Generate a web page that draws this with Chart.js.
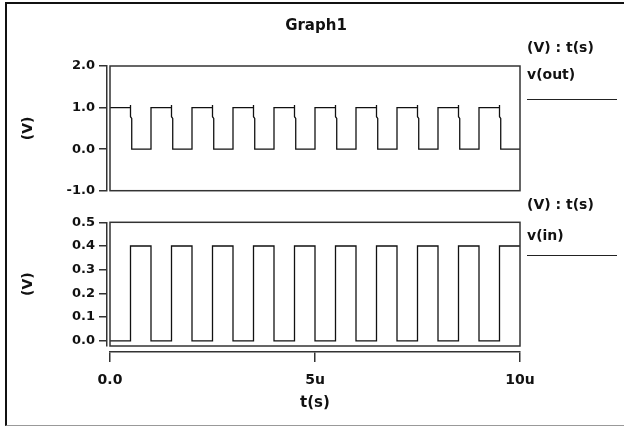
<!DOCTYPE html>
<html>
<head>
<meta charset="utf-8">
<script src="https://cdn.jsdelivr.net/npm/chart.js@4"></script>
<style>
  html, body { margin: 0; padding: 0; background: #fff; }
  #wrap { position: relative; width: 624px; height: 427px; overflow: hidden; background: #fff; }
  #wrap canvas { position: absolute; left: 0; top: 0; }
  .outer { position: absolute; left: 5px; top: 2px; width: 700px; height: 421px;
           border-top: 2px solid #111; border-left: 2px solid #111; border-bottom: 1px solid #999; }
  .txt { position: absolute; font-family: "DejaVu Sans", sans-serif; font-weight: bold; color: #111;
         white-space: nowrap; height: 20px; line-height: 20px; }
  .key { position: absolute; height: 0; border-top: 1.5px solid #222; }
</style>
</head>
<body>
<div id="wrap">
  <div class="outer"></div>
  <canvas id="chartOut" width="624" height="427"></canvas>
  <canvas id="chartIn" width="624" height="427"></canvas>
  <div class="txt" style="left:0;width:632px;text-align:center;top:15px;font-size:15px;">Graph1</div>
  <div class="txt" style="left:527px;top:37px;font-size:14px;">(V) : t(s)</div>
  <div class="txt" style="left:527px;top:64px;font-size:14px;">v(out)</div>
  <div class="key" style="left:527px;width:90px;top:99px;"></div>
  <div class="txt" style="left:527px;top:194px;font-size:14px;">(V) : t(s)</div>
  <div class="txt" style="left:527px;top:225px;font-size:14px;">v(in)</div>
  <div class="key" style="left:527px;width:90px;top:255px;"></div>
</div>
<script>
// --- Dados (tempo em us) ---
// v(out): inversor, cai em k+0.5 com pequeno pico e degrau, sobe em k+1
const tOut = [0,
  0.5, 0.5, 0.5, 0.53, 0.53, 1, 1,
  1.5, 1.5, 1.5, 1.53, 1.53, 2, 2,
  2.5, 2.5, 2.5, 2.53, 2.53, 3, 3,
  3.5, 3.5, 3.5, 3.53, 3.53, 4, 4,
  4.5, 4.5, 4.5, 4.53, 4.53, 5, 5,
  5.5, 5.5, 5.5, 5.53, 5.53, 6, 6,
  6.5, 6.5, 6.5, 6.53, 6.53, 7, 7,
  7.5, 7.5, 7.5, 7.53, 7.53, 8, 8,
  8.5, 8.5, 8.5, 8.53, 8.53, 9, 9,
  9.5, 9.5, 9.5, 9.53, 9.53, 10];
const vOut = [1,
  1, 1.06, 0.78, 0.74, 0, 0, 1,
  1, 1.06, 0.78, 0.74, 0, 0, 1,
  1, 1.06, 0.78, 0.74, 0, 0, 1,
  1, 1.06, 0.78, 0.74, 0, 0, 1,
  1, 1.06, 0.78, 0.74, 0, 0, 1,
  1, 1.06, 0.78, 0.74, 0, 0, 1,
  1, 1.06, 0.78, 0.74, 0, 0, 1,
  1, 1.06, 0.78, 0.74, 0, 0, 1,
  1, 1.06, 0.78, 0.74, 0, 0, 1,
  1, 1.06, 0.78, 0.74, 0, 0];

// v(in): pulso 0 -> 0.4 V (valor mantido ate o proximo ponto)
const tIn = [0, 0.5, 1, 1.5, 2, 2.5, 3, 3.5, 4, 4.5, 5, 5.5, 6, 6.5, 7, 7.5, 8, 8.5, 9, 9.5, 10];
const vIn = [0, 0.4, 0, 0.4, 0, 0.4, 0, 0.4, 0, 0.4, 0, 0.4, 0, 0.4, 0, 0.4, 0, 0.4, 0, 0.4, 0.4];

const yTicksOut = [2, 1, 0, -1];
const yTicksIn = [0.5, 0.4, 0.3, 0.2, 0.1, 0];
const xTickVals = [0, 5, 10];
const xTickLabels = ['0.0', '5u', '10u'];

// --- Estilo comum ---
const INK = '#111';
const AXIS = '#333';
const fnt = (size) => ({ family: 'DejaVu Sans', size, weight: 'bold' });

// moldura do grafico + eixo y afastado 3px da moldura
const frameBox = {
  id: 'frameBox',
  afterLayout(chart, args, opts) {
    const y = chart.scales.y;
    y.left -= 3; y.right -= 3;
    if (opts.xShift) {
      const x = chart.scales.x;
      x.top += opts.xShift; x.bottom += opts.xShift;
    }
  },
  afterDatasetsDraw(chart) {
    const a = chart.chartArea, ctx = chart.ctx;
    ctx.save();
    ctx.strokeStyle = AXIS;
    ctx.lineWidth = 1.5;
    ctx.strokeRect(a.left, a.top, a.right - a.left, a.bottom - a.top);
    ctx.restore();
  }
};

function eixoY(min, max, ticks) {
  return {
    type: 'linear', min, max,
    afterBuildTicks: s => { s.ticks = ticks.map(v => ({ value: v })); },
    afterFit: s => { s.width = 87; },
    grid: { drawOnChartArea: false, drawTicks: true, tickLength: 8, color: AXIS, lineWidth: 1.5 },
    border: { display: true, color: AXIS, width: 1.5 },
    ticks: { autoSkip: false, color: INK, padding: 4, font: fnt(13), callback: v => Number(v).toFixed(1) },
    title: { display: true, text: '(V)', color: INK, padding: 0, font: fnt(14) }
  };
}

function serie(t, v, stepped) {
  return {
    data: t.map((x, i) => ({ x, y: v[i] })),
    borderColor: INK, borderWidth: 1.3, pointRadius: 0, tension: 0, fill: false, stepped
  };
}

const baseOpts = {
  responsive: false, animation: false, devicePixelRatio: 1,
  plugins: { legend: { display: false }, tooltip: { enabled: false } }
};

// --- Grafico superior: v(out) ---
new Chart(document.getElementById('chartOut'), {
  type: 'line',
  data: { datasets: [serie(tOut, vOut, false)] },
  options: {
    ...baseOpts,
    layout: { padding: { left: 23, right: 104, top: 66, bottom: 236.3 } },
    plugins: { ...baseOpts.plugins, frameBox: { xShift: 0 } },
    scales: {
      x: { type: 'linear', min: 0, max: 10, display: false },
      y: eixoY(-1, 2, yTicksOut)
    }
  },
  plugins: [frameBox]
});

// --- Grafico inferior: v(in) + eixo t(s) ---
new Chart(document.getElementById('chartIn'), {
  type: 'line',
  data: { datasets: [serie(tIn, vIn, true)] },
  options: {
    ...baseOpts,
    layout: { padding: { left: 23, right: 104, top: 222.3, bottom: 21 } },
    plugins: { ...baseOpts.plugins, frameBox: { xShift: 6 } },
    scales: {
      x: {
        type: 'linear', min: 0, max: 10, position: 'bottom',
        afterBuildTicks: s => { s.ticks = xTickVals.map(v => ({ value: v })); },
        afterFit: s => { s.height = 60; },
        grid: { drawOnChartArea: false, drawTicks: true, tickLength: 10, color: AXIS, lineWidth: 1.5 },
        border: { display: true, color: AXIS, width: 1.5 },
        ticks: { autoSkip: false, maxRotation: 0, color: INK, padding: 9.6, font: fnt(14),
                 callback: (v, i) => xTickLabels[i] },
        title: { display: true, text: 't(s)', color: INK, padding: 0, font: fnt(15) }
      },
      y: eixoY(-0.022, 0.5, yTicksIn)
    }
  },
  plugins: [frameBox]
});
</script>
</body>
</html>
